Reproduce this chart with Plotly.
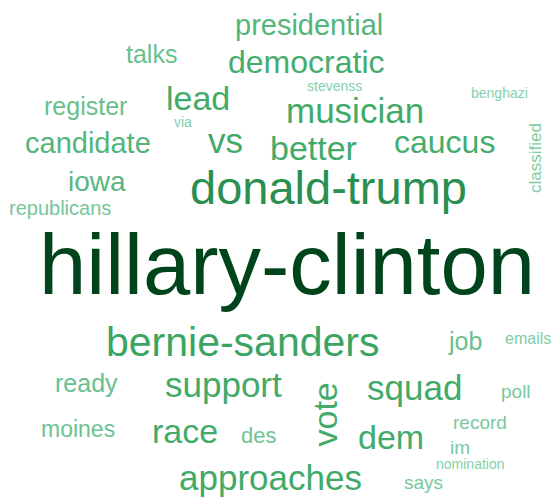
import plotly.graph_objects as go
from plotly.colors import sample_colorscale

# ---- data: words and their weights (weight ~ font size in px) ----
words = ["hillary-clinton", "donald-trump", "bernie-sanders", "presidential", "democratic",
         "musician", "better", "lead", "vs", "caucus", "candidate", "iowa", "republicans",
         "talks", "register", "via", "stevenss", "benghazi", "classified", "ready", "support",
         "moines", "race", "des", "approaches", "vote", "squad", "dem", "job", "emails",
         "poll", "record", "im", "nomination", "says"]
weights = [85, 47, 41, 29, 32,
           35, 34, 34, 35, 32, 29, 28, 20,
           25, 25, 14, 14, 14, 17, 25, 35,
           23, 34, 22, 35, 34, 35, 34, 25, 16,
           19, 19, 19, 14, 19]

# ---- layout of the cloud (placement only) ----
x_pos = [287, 328, 243, 308.5, 306,
         354.5, 313, 198, 225.5, 444, 87.5, 97, 59.5,
         151.5, 85.5, 183, 334, 499.5, 535, 86.5, 223.5,
         77.5, 185, 258, 270.5, 324, 414, 390.5, 465, 528,
         516, 479.5, 460, 470.5, 423.5]
y_pos = [264.5, 187.7, 341.8, 25, 61.9,
         110.9, 148.2, 98.2, 140.9, 141.9, 143, 181.3, 208.1,
         54.3, 106.3, 122.1, 86.1, 93.1, 158, 383.3, 384.9,
         429, 431.2, 435.4, 477.9, 414.5, 387.9, 437.2, 341.3, 338.5,
         391.4, 422.4, 447.4, 464.1, 482.4]
angles = [0] * len(words)
angles[words.index("classified")] = -90
angles[words.index("vote")] = -90

scale = [[0, '#84d0aa'], [0.155, '#68bf8f'], [0.254, '#45ad6c'],
         [0.38, '#3ba462'], [0.465, '#2a8f50'], [1, '#00441b']]
wmin, wmax = min(weights), max(weights)
colors = sample_colorscale(scale, [(w - wmin) / (wmax - wmin) for w in weights])

fig = go.Figure()
annotations = []
for w, wt, x, y, a, c in zip(words, weights, x_pos, y_pos, angles, colors):
    annotations.append(dict(
        text=w, x=x, y=y, xref="x", yref="y", showarrow=False,
        xanchor="center", yanchor="middle", textangle=a,
        font=dict(family="Liberation Sans, Arial, sans-serif", size=wt, color=c),
    ))

fig.update_layout(
    width=552, height=501,
    margin=dict(l=0, r=0, t=0, b=0),
    paper_bgcolor="white", plot_bgcolor="white",
    xaxis=dict(range=[0, 552], visible=False, fixedrange=True),
    yaxis=dict(range=[501, 0], visible=False, fixedrange=True),
    annotations=annotations,
    showlegend=False,
)
fig.write_html(
    "out.html",
    config={"displayModeBar": False},
    post_script="document.body.style.margin='0';document.body.style.padding='0';document.body.style.overflow='hidden';",
)
